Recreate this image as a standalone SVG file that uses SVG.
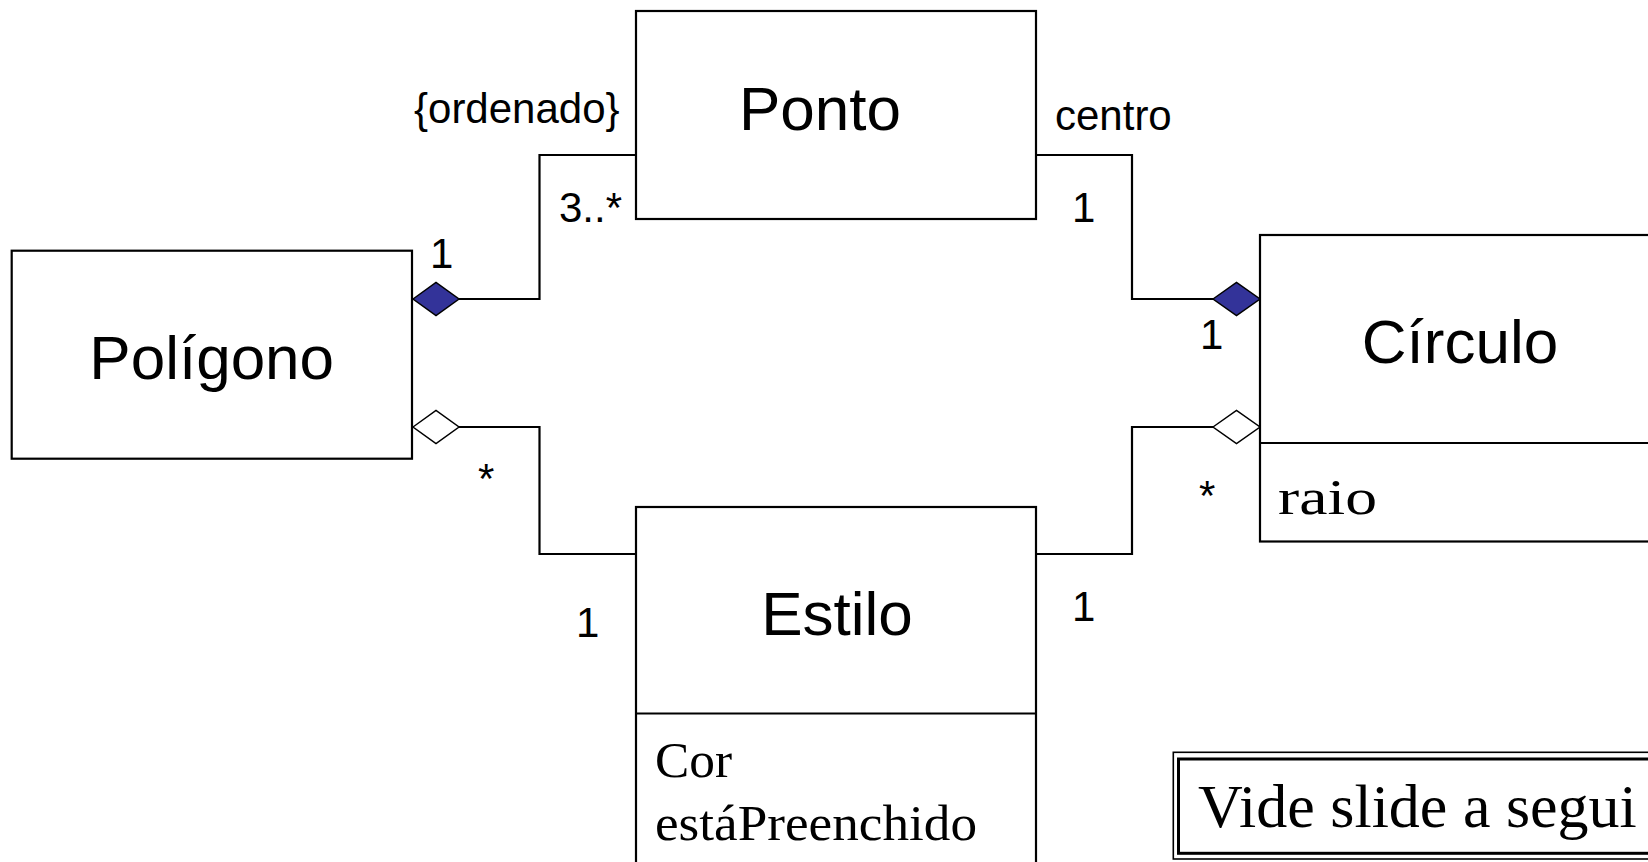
<svg xmlns="http://www.w3.org/2000/svg" width="1648" height="862" viewBox="0 0 1648 862">
<style>
.box{fill:#fff;stroke:#000;stroke-width:2.2}
.line{fill:none;stroke:#000;stroke-width:2.2}
.name{font-family:"Liberation Sans",Arial,sans-serif;font-size:62px;text-anchor:middle;fill:#000}
.lbl{font-family:"Liberation Sans",Arial,sans-serif;font-size:42px;fill:#000}
.attr{font-family:"Liberation Serif","Times New Roman",serif;font-size:51px;fill:#000}
.filled{fill:#333399;stroke:#000;stroke-width:1.5}
.hollow{fill:#fff;stroke:#000;stroke-width:1.5}
</style>
<rect width="1648" height="862" fill="#fff"/>
<g id="connectors">
  <polyline class="line" points="459,299 539.5,299 539.5,155 636,155"/>
  <polyline class="line" points="459,427 539.5,427 539.5,554 636,554"/>
  <polyline class="line" points="1036,155 1132,155 1132,299 1213,299"/>
  <polyline class="line" points="1036,554 1132,554 1132,427 1213,427"/>
  <polygon class="filled" points="413,299 436,282.5 459,299 436,315.5"/>
  <polygon class="hollow" points="413,427 436,410.5 459,427 436,443.5"/>
  <polygon class="filled" points="1213,299 1236.5,282.5 1260,299 1236.5,315.5"/>
  <polygon class="hollow" points="1213,427 1236.5,410.5 1260,427 1236.5,443.5"/>
  <text class="lbl" x="414" y="123">{ordenado}</text>
  <text class="lbl" x="430" y="268">1</text>
  <text class="lbl" x="559" y="222">3..*</text>
  <text class="lbl" x="478" y="493">*</text>
  <text class="lbl" x="576" y="637">1</text>
  <text class="lbl" x="1055" y="130">centro</text>
  <text class="lbl" x="1072" y="222">1</text>
  <text class="lbl" x="1200" y="349">1</text>
  <text class="lbl" x="1199" y="510">*</text>
  <text class="lbl" x="1072" y="621">1</text>
</g>
<g id="poligono">
  <rect class="box" x="11.7" y="250.7" width="400.3" height="208"/>
  <text class="name" x="211.7" y="379">Polígono</text>
</g>
<g id="ponto">
  <rect class="box" x="636" y="11" width="400" height="208"/>
  <text class="name" x="820" y="130">Ponto</text>
</g>
<g id="circulo">
  <rect class="box" x="1260" y="235" width="500" height="306.5"/>
  <line class="line" x1="1260" y1="443" x2="1760" y2="443"/>
  <text class="name" x="1460" y="363">Círculo</text>
  <text class="attr" x="1278" y="514" textLength="99" lengthAdjust="spacingAndGlyphs">raio</text>
</g>
<g id="estilo">
  <rect class="box" x="636" y="507" width="400" height="400"/>
  <line class="line" x1="636" y1="713.5" x2="1036" y2="713.5"/>
  <text class="name" x="837" y="635">Estilo</text>
  <text class="attr" x="655" y="777" textLength="77" lengthAdjust="spacingAndGlyphs">Cor</text>
  <text class="attr" x="655" y="840" textLength="322" lengthAdjust="spacingAndGlyphs">estáPreenchido</text>
</g>
<g id="nota">
  <rect x="1173.3" y="752.3" width="600" height="106.7" fill="#fff" stroke="#000" stroke-width="1.6"/>
  <rect x="1178.5" y="759" width="600" height="94.3" fill="none" stroke="#000" stroke-width="3"/>
  <text class="attr" x="1198" y="827" style="font-size:62px">Vide slide a segui</text>
</g>
</svg>
